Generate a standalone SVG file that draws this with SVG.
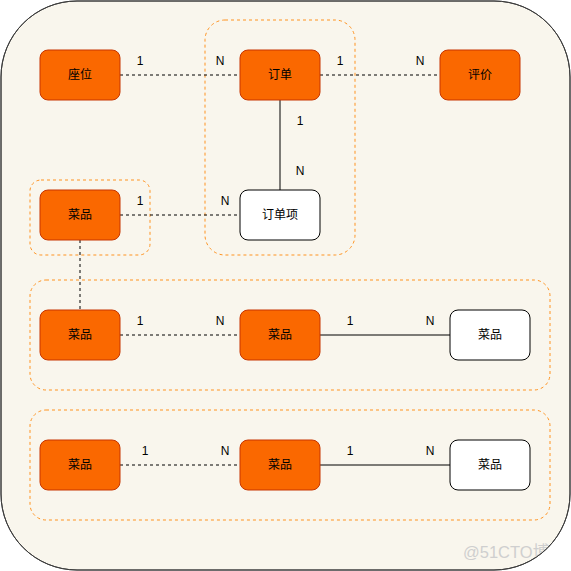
<svg xmlns="http://www.w3.org/2000/svg" width="571" height="571" viewBox="0 0 571 571">
<style>
.bg{fill:#f9f6ed;stroke:#3c3c3c;stroke-width:1}
.grp{fill:none;stroke:#ff9320;stroke-width:1;stroke-dasharray:3 3}
.o{fill:#fa6800;stroke:#c73500;stroke-width:1}
.w{fill:#ffffff;stroke:#000000;stroke-width:1}
.t{font-family:"Liberation Sans","Noto Sans CJK SC",sans-serif;font-size:12px;fill:#000;text-anchor:middle;dominant-baseline:central}
.l{font-family:"Liberation Sans",sans-serif;font-size:12px;fill:#000;text-anchor:middle;dominant-baseline:central}
.d{stroke:#000;stroke-width:1;stroke-dasharray:3 3;fill:none}
.s{stroke:#000;stroke-width:1;fill:none}
</style>
<defs>
<clipPath id="outer"><rect x="1" y="1" width="569" height="569" rx="76" ry="76"/></clipPath>
</defs>
<rect class="bg" x="1" y="1" width="569" height="569" rx="76" ry="76"/>
<g id="groups">
<rect class="grp" x="205" y="20" width="150" height="235" rx="20" ry="20"/>
<rect class="grp" x="30" y="180" width="120" height="75" rx="11" ry="11"/>
<rect class="grp" x="30" y="280" width="520" height="110" rx="16" ry="16"/>
<rect class="grp" x="30" y="410" width="520" height="110" rx="16" ry="16"/>
</g>
<g id="connectors">
<line class="d" x1="120" y1="75" x2="240" y2="75"/>
<line class="d" x1="320" y1="75" x2="440" y2="75"/>
<line class="s" x1="280" y1="100" x2="280" y2="190"/>
<line class="d" x1="120" y1="215" x2="240" y2="215"/>
<line class="d" x1="80" y1="240" x2="80" y2="310"/>
<line class="d" x1="120" y1="335" x2="240" y2="335"/>
<line class="s" x1="320" y1="335" x2="450" y2="335"/>
<line class="d" x1="120" y1="465" x2="240" y2="465"/>
<line class="s" x1="320" y1="465" x2="450" y2="465"/>
<text class="l" x="140" y="61">1</text>
<text class="l" x="220" y="61">N</text>
<text class="l" x="340" y="61">1</text>
<text class="l" x="420" y="61">N</text>
<text class="l" x="300" y="121">1</text>
<text class="l" x="300" y="171">N</text>
<text class="l" x="140" y="201">1</text>
<text class="l" x="225" y="201">N</text>
<text class="l" x="140" y="321">1</text>
<text class="l" x="220" y="321">N</text>
<text class="l" x="350" y="321">1</text>
<text class="l" x="430" y="321">N</text>
<text class="l" x="145" y="451">1</text>
<text class="l" x="225" y="451">N</text>
<text class="l" x="350" y="451">1</text>
<text class="l" x="430" y="451">N</text>
</g>
<g id="seat"><rect class="o" x="40" y="50" width="80" height="50" rx="8"/><text class="t" x="80" y="75">座位</text></g>
<g id="order"><rect class="o" x="240" y="50" width="80" height="50" rx="8"/><text class="t" x="280" y="75">订单</text></g>
<g id="review"><rect class="o" x="440" y="50" width="80" height="50" rx="8"/><text class="t" x="480" y="75">评价</text></g>
<g id="dish1"><rect class="o" x="40" y="190" width="80" height="50" rx="8"/><text class="t" x="80" y="215">菜品</text></g>
<g id="orderitem"><rect class="w" x="240" y="190" width="80" height="50" rx="8"/><text class="t" x="280" y="215">订单项</text></g>
<g id="dish2"><rect class="o" x="40" y="310" width="80" height="50" rx="8"/><text class="t" x="80" y="335">菜品</text></g>
<g id="dish3"><rect class="o" x="240" y="310" width="80" height="50" rx="8"/><text class="t" x="280" y="335">菜品</text></g>
<g id="dish4"><rect class="w" x="450" y="310" width="80" height="50" rx="8"/><text class="t" x="490" y="335">菜品</text></g>
<g id="dish5"><rect class="o" x="40" y="440" width="80" height="50" rx="8"/><text class="t" x="80" y="465">菜品</text></g>
<g id="dish6"><rect class="o" x="240" y="440" width="80" height="50" rx="8"/><text class="t" x="280" y="465">菜品</text></g>
<g id="dish7"><rect class="w" x="450" y="440" width="80" height="50" rx="8"/><text class="t" x="490" y="465">菜品</text></g>
<g clip-path="url(#outer)">
<text x="463" y="558" font-family="Liberation Sans,'Noto Sans CJK SC',sans-serif" font-size="16.5" fill="#cfcfcf">@51CTO博客</text>
</g>
<rect x="1" y="1" width="569" height="569" rx="76" ry="76" fill="none" stroke="#3c3c3c" stroke-width="1"/>
</svg>
